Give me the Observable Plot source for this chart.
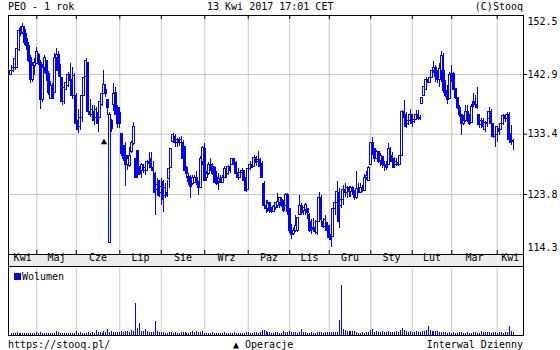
<!DOCTYPE html>
<html><head><meta charset="utf-8">
<script src="https://cdn.jsdelivr.net/npm/d3@7"></script>
<script src="https://cdn.jsdelivr.net/npm/@observablehq/plot@0.6"></script>
<style>
body{margin:0;background:#fff}
#wrap{position:relative;width:560px;height:350px;overflow:hidden;font-family:"DejaVu Sans Mono",monospace;font-size:10px;color:#000;background:#fff}
.t{position:absolute;line-height:10px;white-space:pre}
#band{position:absolute;left:8px;top:254px;width:516px;height:13px;background:#ececec;border-left:1px solid #000;border-right:1px solid #000;box-sizing:border-box}
#p1,#p2{position:absolute;left:0}
#p1{top:14px}
#p2{top:266px}
#leg{position:absolute;left:14px;top:273px;width:7px;height:7px;background:#0000ff}
</style></head>
<body>
<div id="wrap">
  <div class="t" style="left:8px;top:2px">PEO - 1 rok</div>
  <div class="t" style="left:207px;top:2px">13 Kwi 2017 17:01 CET</div>
  <div class="t" style="right:37px;top:2px">(C)Stooq</div>
  <div id="band"></div>
  <div id="p1"></div>
  <div id="p2"></div>
  <div id="leg"></div>
  <div class="t" style="left:22px;top:272px">Wolumen</div>
  <div class="t" style="left:8px;top:340px">https://stooq.pl/</div>
  <div class="t" style="left:233px;top:340px">▲ Operacje</div>
  <div class="t" style="right:37px;top:340px">Interwal Dzienny</div>
</div>
<script>
const BLUE = "#0000ff";
const GRID = "#c8c8c8";

const monthLabels = ["Kwi","Maj","Cze","Lip","Sie","Wrz","Paz","Lis","Gru","Sty","Lut","Mar","Kwi"];
const monthStart = [13,33,55,76,98,120,141,161,182,203,223,246];
const yTicks = [114.3,123.8,133.4,142.9,152.5];
const operations = [{i:47, p:132.1}];

const open = [142.9,143.4,143.9,144.0,146.8,149.8,149.5,150.0,148.5,147.5,
145.5,142.0,144.3,144.5,146.0,144.8,138.8,144.0,145.0,143.0,
139.0,141.0,140.0,145.5,146.0,143.5,142.3,138.5,140.5,141.0,
142.8,142.0,139.5,139.5,135.5,134.5,136.0,139.5,142.5,144.8,
137.0,136.5,137.0,136.0,136.8,136.0,138.0,139.8,140.5,138.8,
116.1,135.5,138.0,140.0,137.5,136.8,133.4,131.5,130.0,128.5,
128.4,130.5,131.8,129.5,130.8,127.4,127.5,128.5,127.5,127.5,
129.0,129.5,128.0,127.0,124.5,126.0,124.0,125.8,123.5,124.0,
126.3,128.0,132.2,133.0,132.0,132.5,132.0,132.0,131.3,128.0,
126.6,126.0,125.5,125.6,126.5,125.8,124.8,129.0,131.0,126.5,
127.0,128.5,128.2,128.0,126.5,125.8,126.3,125.6,126.4,127.8,
127.0,128.2,128.5,129.4,128.8,127.2,126.5,127.2,127.5,126.5,
124.5,127.8,128.5,128.2,129.6,129.0,129.3,128.7,125.5,122.0,
121.5,122.5,121.5,121.0,121.6,122.0,122.5,123.0,122.0,122.0,
123.7,121.5,118.0,117.5,118.0,118.0,120.5,122.0,121.2,121.3,
121.5,120.6,119.5,118.5,118.5,117.6,119.5,123.2,119.5,118.7,
119.3,118.8,117.3,117.0,121.5,122.5,124.0,122.0,123.0,124.5,
124.0,124.8,124.2,124.8,124.3,123.3,124.7,124.0,124.8,124.3,
126.5,126.0,128.5,132.0,131.0,129.5,130.5,129.2,129.8,128.5,
128.3,128.5,131.0,130.0,129.5,128.5,128.8,128.5,130.0,137.0,
136.5,135.0,135.5,136.5,135.3,135.7,136.5,135.8,138.2,139.5,
140.5,142.0,141.5,142.3,143.5,144.0,142.5,142.0,143.5,143.5,
140.3,139.5,139.0,142.8,143.0,140.6,139.2,137.6,136.5,135.0,
135.5,137.0,135.8,135.2,137.8,138.5,138.0,136.4,134.8,135.5,
134.0,135.2,135.8,137.0,135.0,133.0,133.2,134.2,134.0,135.0,
136.3,135.8,136.5,133.5,132.3];

const close = [143.4,144.0,145.3,147.0,149.9,149.3,150.5,147.9,147.5,145.0,
142.0,144.3,144.8,146.5,144.8,138.8,144.0,145.5,143.0,140.0,
141.0,139.0,145.5,146.0,143.5,142.5,138.5,140.8,141.5,142.8,
141.9,139.5,142.6,135.0,134.0,136.0,139.5,142.3,145.0,137.0,
136.5,137.3,135.5,137.3,135.0,138.5,139.8,141.2,139.8,137.6,
136.5,134.2,139.8,136.5,135.0,135.0,130.3,129.5,128.5,129.5,
130.0,132.0,134.5,126.5,126.9,127.0,128.5,127.5,128.0,129.0,
128.7,128.0,127.6,124.0,125.3,123.5,125.0,123.0,124.8,123.5,
127.9,131.0,133.3,132.0,132.5,132.0,132.5,129.5,127.5,127.0,
125.8,125.0,126.5,126.5,125.7,124.8,129.5,131.2,126.0,127.0,
128.5,128.2,127.0,125.7,125.5,126.3,125.6,126.4,127.8,126.8,
128.2,127.5,129.4,128.5,127.0,126.5,127.2,127.5,126.0,124.3,
127.8,128.5,128.0,129.6,128.8,129.3,128.2,126.5,122.0,121.5,
122.3,121.2,121.0,121.8,122.4,122.6,123.2,122.0,121.2,123.7,
121.0,118.0,117.3,118.0,118.8,120.0,122.0,120.8,121.6,122.2,
120.8,118.0,118.0,118.2,117.8,119.5,123.3,119.8,118.6,119.8,
118.0,116.8,116.6,121.5,122.5,124.2,119.5,123.0,124.5,124.0,
124.8,124.2,124.8,124.5,123.2,124.7,124.0,124.8,124.3,126.5,
126.8,128.0,132.0,131.0,129.5,130.5,129.0,130.0,128.5,128.3,
128.0,131.0,130.0,129.0,128.0,129.0,128.5,130.0,137.0,136.0,
134.5,135.5,136.5,135.0,135.7,136.5,135.8,136.0,139.2,140.9,
142.0,141.5,142.3,143.5,144.0,142.5,142.0,143.8,145.8,140.3,
139.5,138.8,142.8,143.0,140.5,139.2,137.6,136.5,135.0,135.5,
137.0,135.8,135.0,137.8,138.5,138.0,137.5,134.8,135.5,134.5,
135.2,135.0,137.0,135.0,133.0,133.2,134.5,133.8,135.0,136.3,
135.8,136.5,132.5,132.0,132.2];

const high = [144.3,144.9,145.7,147.2,150.3,150.5,151.0,150.5,149.5,148.0,
146.0,144.8,145.4,147.2,146.2,145.2,144.5,146.0,145.2,143.4,
141.8,141.5,146.2,147.0,146.5,144.5,142.5,141.4,142.2,143.2,
144.6,144.0,143.0,139.8,137.4,136.9,140.0,142.5,145.4,144.8,
138.9,138.0,137.9,137.6,137.0,138.7,140.0,143.5,141.3,138.9,
136.9,135.8,141.4,140.9,138.0,137.7,133.5,131.6,132.1,130.0,
131.3,132.2,135.3,129.5,130.8,128.3,128.7,128.6,128.1,129.2,
130.5,130.5,129.0,127.3,126.3,126.0,126.3,126.0,125.5,126.0,
128.4,131.2,133.5,133.4,132.7,132.8,133.0,132.4,131.5,128.2,
127.2,126.9,126.8,126.8,127.4,125.8,129.8,131.4,131.9,127.4,
128.9,129.5,128.7,128.2,127.4,127.1,126.8,126.8,128.2,127.9,
128.4,128.7,129.5,129.5,129.0,127.9,127.4,127.9,127.6,126.8,
128.1,129.0,129.2,130.0,129.8,130.6,129.5,129.0,125.8,122.9,
122.9,122.6,121.8,122.0,122.6,123.9,123.4,123.4,122.8,123.9,
123.9,121.5,119.0,118.5,120.4,120.2,123.6,122.3,121.8,122.3,
121.6,120.8,119.9,120.0,119.6,120.0,124.1,123.6,120.0,120.4,
119.4,118.9,118.3,122.0,123.6,125.8,124.7,123.6,125.2,125.5,
125.0,125.0,125.0,125.0,124.4,127.4,125.6,125.5,125.2,127.0,
127.4,128.2,132.1,132.9,131.1,130.8,130.5,130.3,129.8,129.0,
129.0,131.9,131.3,130.5,129.7,129.5,129.5,130.3,137.2,138.8,
136.9,136.4,137.4,136.6,136.1,137.2,137.2,136.4,139.3,141.1,
142.5,142.2,142.5,143.8,144.9,144.3,143.5,144.6,146.5,146.2,
141.9,141.2,143.3,144.3,143.3,140.6,139.3,138.0,136.6,136.4,
138.0,138.0,136.6,138.2,139.8,139.6,140.9,136.6,135.9,135.9,
135.4,135.9,137.7,137.4,135.0,133.8,134.6,134.3,135.3,136.6,
136.4,136.9,136.9,134.8,132.5];

const low = [142.7,143.2,143.6,143.8,146.6,148.9,149.2,147.5,146.8,144.8,
141.4,141.6,142.8,144.5,144.3,137.4,138.5,143.0,141.8,139.6,
138.9,138.9,140.0,143.4,142.5,141.7,137.9,138.2,140.3,140.8,
141.8,139.0,139.4,134.8,133.5,134.0,135.3,139.4,142.4,136.9,
136.1,135.8,134.8,135.3,133.7,135.9,137.8,139.7,139.3,136.4,
116.1,133.7,137.0,136.4,134.3,134.3,129.8,129.0,125.0,127.6,
128.1,130.4,131.6,126.3,126.3,126.8,126.3,127.1,126.8,127.4,
128.4,127.9,127.2,120.5,124.2,123.4,122.1,121.0,123.1,123.4,
124.7,127.9,132.1,131.3,131.3,131.4,131.5,128.9,127.1,126.3,
125.2,123.2,125.2,125.5,125.2,123.6,124.7,128.4,125.9,125.8,
126.9,127.4,126.8,125.5,125.2,124.4,125.5,125.5,126.3,126.3,
126.8,127.1,128.4,128.4,126.8,126.0,126.3,126.8,125.2,124.2,
124.4,127.6,127.9,128.1,128.2,128.2,127.9,126.3,121.5,120.7,
121.0,120.7,120.7,120.9,121.2,121.5,121.5,121.8,121.0,121.9,
120.5,117.6,116.7,117.3,117.8,117.8,120.4,120.4,120.4,120.5,
119.9,117.8,117.5,118.0,117.5,117.3,119.4,119.4,118.4,118.4,
117.3,116.5,115.4,116.9,120.4,122.4,118.4,121.5,122.0,123.4,
123.1,123.4,123.4,123.7,122.9,123.0,123.9,123.9,124.2,124.3,
126.0,126.0,128.5,130.0,128.9,129.5,128.7,128.2,127.9,127.4,
127.6,128.5,129.7,128.7,127.9,128.2,128.2,128.5,130.0,134.8,
134.3,134.8,135.3,134.5,135.1,135.6,135.6,135.6,138.2,139.5,
140.3,141.4,141.4,142.2,143.0,141.7,141.4,140.9,141.7,139.8,
139.3,138.2,139.0,141.7,140.3,139.0,137.4,136.1,133.2,134.8,
135.3,135.3,134.8,135.2,137.7,137.7,137.4,134.3,134.3,134.0,
133.7,134.5,135.8,134.8,132.7,131.3,132.1,133.2,134.0,134.8,
135.3,135.8,132.4,131.6,130.8];

const volume = [320,300,350,410,330,360,290,310,340,300,330,380,350,
420,360,450,380,330,300,350,340,390,360,640,420,
380,350,400,360,330,370,350,340,620,380,560,
400,370,360,420,390,440,380,800,450,420,380,640,500,960,
520,610,480,560,500,450,600,520,700,640,560,800,700,
5120,1120,1920,640,640,960,640,480,500,450,2240,640,480,
420,450,400,380,420,460,400,420,380,400,450,420,480,400,380,420,640,450,640,480,420,640,
400,380,360,400,420,380,350,400,380,360,420,400,380,350,400,420,380,360,400,380,350,480,420,400,380,450,420,400,440,800,
800,640,500,420,380,400,420,450,380,400,640,420,450,
640,480,420,450,400,420,960,500,420,400,380,420,400,380,450,500,420,400,450,480,420,450,500,480,520,
2400,8000,960,800,640,640,640,640,600,450,400,380,420,400,450,
480,800,960,560,640,560,500,600,560,500,640,560,500,480,640,500,800,
1120,800,640,560,600,500,560,640,500,560,600,640,800,1440,800,
640,640,600,640,480,500,460,450,400,420,380,450,400,380,420,450,400,380,
420,400,380,450,420,400,380,640,420,450,560,420,400,480,420,400,480,420,400,500,420,1440,640,480];

const days = open.map((o, i) => ({i, o, c: close[i], h: high[i], l: low[i], v: volume[i]}));
const xDomain = [-1.32, 259.3];
const bounds = [xDomain[0], ...monthStart, xDomain[1]];
const monthMarks = monthLabels.map((label, k) => ({label, x: (bounds[k] + bounds[k + 1]) / 2}));

const svgStyle = {background: "transparent", overflow: "visible", fontFamily: "DejaVu Sans Mono", fontSize: "10px", color: "#000"};

const p1 = Plot.plot({
  width: 560, height: 252,
  marginTop: 1, marginBottom: 12, marginLeft: 8, marginRight: 37,
  x: {domain: xDomain, axis: null},
  y: {domain: [114.3, 152.5], range: [239.7, -0.3], axis: null},
  color: {type: "identity"},
  style: svgStyle,
  marks: [
    Plot.ruleX(monthStart, {stroke: GRID}),
    Plot.ruleY(yTicks.slice(1, -1), {stroke: GRID}),
    Plot.ruleX(monthStart, {stroke: "#000", insetBottom: 235}),
    Plot.ruleX(monthStart, {stroke: "#000", insetTop: 235}),
    Plot.ruleY(yTicks.slice(1, -1), {stroke: "#000", insetLeft: 515, insetRight: -4}),
    Plot.ruleX(days, {x: "i", y1: "l", y2: "h", stroke: BLUE, shapeRendering: "crispEdges"}),
    Plot.rect(days, {x1: d => d.i - 0.5, x2: d => d.i + 0.5, y1: "o", y2: "c",
      fill: d => d.c >= d.o ? "#ffffff" : BLUE, stroke: BLUE, shapeRendering: "crispEdges"}),
    Plot.dot(operations, {x: "i", y: "p", symbol: "triangle", fill: "#000", r: 2.4}),
    Plot.frame({stroke: "#000"}),
    Plot.text(yTicks.slice(1, -1), {y: d => d, text: d => d.toFixed(1), frameAnchor: "right", dx: 4, textAnchor: "start", fill: "#000"}),
    Plot.text(yTicks.slice(-1), {y: d => d, text: d => d.toFixed(1), frameAnchor: "right", dx: 4, dy: 8, textAnchor: "start", fill: "#000"}),
    Plot.text(yTicks.slice(0, 1), {y: d => d, text: d => d.toFixed(1), frameAnchor: "right", dx: 4, dy: -6, textAnchor: "start", fill: "#000"}),
    Plot.text(monthMarks, {x: "x", text: "label", frameAnchor: "bottom", dy: 6, fill: "#000"})
  ]
});
document.getElementById("p1").append(p1);

const p2 = Plot.plot({
  width: 560, height: 70,
  marginTop: 0, marginBottom: 1, marginLeft: 8, marginRight: 37,
  x: {domain: xDomain, axis: null},
  y: {domain: [0, 11040], axis: null},
  style: svgStyle,
  marks: [
    Plot.ruleX(monthStart, {stroke: GRID}),
    Plot.ruleX(days, {x: "i", y: "v", stroke: BLUE, shapeRendering: "crispEdges"}),
    Plot.frame({stroke: "#000"})
  ]
});
document.getElementById("p2").append(p2);
</script>
</body></html>
